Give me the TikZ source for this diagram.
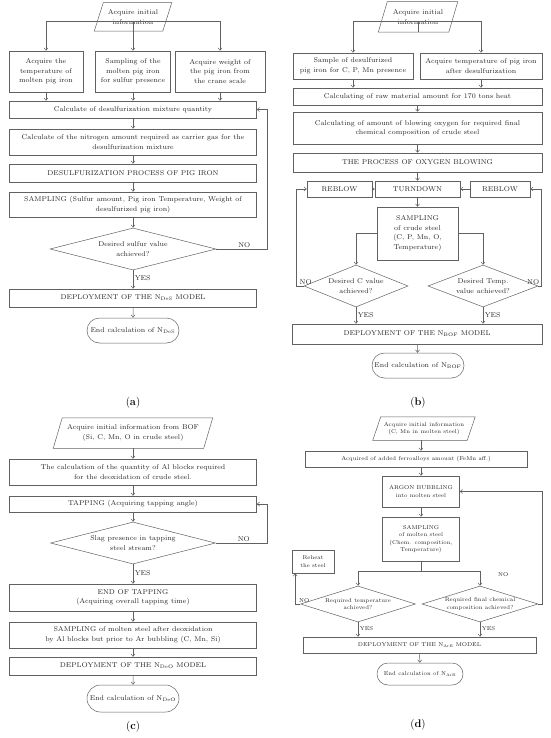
\documentclass[tikz,border=0pt]{standalone}
\usepackage{amsmath}
\usetikzlibrary{calc,arrows.meta,positioning,shapes.geometric,shapes.misc}
\newcommand{\flowfont}{\fontsize{7}{9.5}\selectfont}
\newcommand{\tinyflow}{\fontsize{5.6}{7.5}\selectfont}
\newcommand{\capfont}{\fontsize{11}{13}\selectfont}
% slanted outline round a data node
\newcommand{\slantbox}[2]{%
    \draw[linegray] ($(#1.north west)+(#2,0)$) -- ($(#1.north east)+(#2,0)$)
        -- ($(#1.south east)+(-#2,0)$) -- ($(#1.south west)+(-#2,0)$) -- cycle;}
\colorlet{linegray}{black!62}
\tikzset{
    box/.style = {
        draw = linegray,
        rectangle,
        inner sep = 1pt,
        align = center,
        font = \flowfont,
        text = black!85,
        },
    data/.style = {
        rectangle,
        inner sep = 1pt,
        align = center,
        font = \flowfont,
        text = black!85,
        },
    decision/.style = {
        draw = linegray,
        diamond,
        inner sep = 0pt,
        },
    ask/.style = {
        align = center,
        font = \flowfont,
        text = black!85,
        },
    terminal/.style = {
        draw = linegray,
        rounded rectangle,
        inner sep = 1pt,
        font = \flowfont,
        text = black!85,
        },
    flow/.style = {
        draw = linegray,
        -{Straight Barb[length=2.5pt,width=4pt]},
        },
    answer/.style = {
        font = \flowfont,
        text = black!85,
        inner sep = 1.5pt,
        },
    caption/.style = {
        font = \capfont,
        },
}

\begin{document}
\begin{tikzpicture}[x=1pt, y=-1pt, line width=0.5pt]
    \useasboundingbox (0,0) rectangle (550,738);

    % (a)
    \node[data, minimum width=68, minimum height=28] (a0) at (133,17) {Acquire initial\\information};
    \slantbox{a0}{4.5}
    \node[box, minimum width=74, minimum height=41] (a1) at (46,71.5) {Acquire the\\temperature of\\molten pig iron};
    \node[box, minimum width=75, minimum height=41] (a2) at (133,71.5) {Sampling of the\\molten pig iron\\for sulfur presence};
    \node[box, minimum width=90, minimum height=41] (a3) at (220,71.5) {Acquire weight of\\the pig iron from\\the crane scale};
    \node[box, minimum width=247, minimum height=17] (a4) at (133,109.5) {Calculate of desulfurization mixture quantity};
    \node[box, minimum width=247, minimum height=26] (a5) at (133,142) {Calculate of the nitrogen amount required as carrier gas for the\\desulfurization mixture};
    \node[box, minimum width=247, minimum height=18] (a6) at (133,173) {DESULFURIZATION PROCESS OF PIG IRON};
    \node[box, minimum width=247, minimum height=25] (a7) at (133,204.5) {SAMPLING (Sulfur amount, Pig iron Temperature, Weight of\\desulfurized pig iron)};
    \node[decision, minimum width=166, minimum height=42,
        label={[ask]center:Desired sulfur value\\achieved?}] (a8) at (133,249) {};
    \node[box, minimum width=247, minimum height=18] (a9) at (133,298) {DEPLOYMENT OF THE N\textsubscript{DeS} MODEL};
    \node[terminal, minimum width=94, minimum height=25] (a10) at (133,330.5) {End calculation of N\textsubscript{DeS}};
    \node[caption] (capa) at (133,403) {(\textbf{a})};

    \draw[linegray] (a0.south) -- ++(0,-10) coordinate (a0b);
    \draw[flow] (a0b) -| (a1.north);
    \draw[flow] (a0b) -- (a2.north);
    \draw[flow] (a0b) -| (a3.north);
    \draw[flow] (a1) -- (a1 |- a4.north);
    \draw[flow] (a2) -- (a4);
    \draw[flow] (a3) -- (a3 |- a4.north);
    \draw[flow] (a4) -- (a5);
    \draw[flow] (a5) -- (a6);
    \draw[flow] (a6) -- (a7);
    \draw[flow] (a7) -- (a8);
    \draw[flow] (a8.east) -- node[answer, above, pos=0.55] {NO} ++(51,0) |- (a4.east);
    \draw[flow] (a8) -- node[answer, right, pos=0.45] {YES} (a9);
    \draw[flow] (a9) -- (a10);

    % (b)
    \node[data, minimum width=70, minimum height=30] (b0) at (418,17) {Acquire initial\\information};
    \slantbox{b0}{4.5}
    \node[box, minimum width=120, minimum height=26] (b1) at (353,66) {Sample of desulfurized\\pig iron for C, P, Mn presence};
    \node[box, minimum width=122, minimum height=26] (b2) at (481,66) {Acquire temperature of pig iron\\after desulfurization};
    \node[box, minimum width=249, minimum height=17] (b3) at (417.5,96.5) {Calculating of raw material amount for 170 tons heat};
    \node[box, minimum width=249, minimum height=32] (b4) at (417.5,128) {Calculating of amount of blowing oxygen for required final\\chemical composition of crude steel};
    \node[box, minimum width=249, minimum height=19] (b5) at (417.5,162.5) {THE PROCESS OF OXYGEN BLOWING};
    \node[box, minimum width=65, minimum height=16] (b6) at (339.5,189) {REBLOW};
    \node[box, minimum width=85, minimum height=16] (b7) at (417.5,189) {TURNDOWN};
    \node[box, minimum width=60, minimum height=16] (b8) at (500,189) {REBLOW};
    \node[box, minimum width=81, minimum height=53] (b9) at (417.5,233.5) {SAMPLING\\of crude steel\\(C, P, Mn, O,\\Temperature)};
    \node[decision, minimum width=104, minimum height=42,
        label={[ask]center:Desired C value\\achieved?}] (b10) at (356,286) {};
    \node[decision, minimum width=110, minimum height=42,
        label={[ask]center:Desired Temp.\\value achieved?}] (b11) at (483,286) {};
    \node[box, minimum width=250, minimum height=20] (b12) at (417,334) {DEPLOYMENT OF THE N\textsubscript{BOF} MODEL};
    \node[terminal, minimum width=94, minimum height=25] (b13) at (418,365.5) {End calculation of N\textsubscript{BOF}};
    \node[caption] (capb) at (418,403) {(\textbf{b})};

    \draw[linegray] (b0.south) -- ++(0,-11) coordinate (b0b);
    \draw[flow] (b0b) -| (b1.north);
    \draw[flow] (b0b) -| (b2.north);
    \draw[flow] (b1) -- (b1 |- b3.north);
    \draw[flow] (b2) -- (b2 |- b3.north);
    \draw[flow] (b3) -- (b4);
    \draw[flow] (b4) -- (b5);
    \draw[flow] (b5) -- (b7);
    \draw[flow] (b6) -- (b7);
    \draw[flow] (b8) -- (b7);
    \draw[flow] (b7) -- (b9);
    \draw[flow] (b9.west) -| (b10.north);
    \draw[flow] (b9.east) -| (b11.north);
    \draw[flow] (b10.west) -- ++(-8,0) |- (b6.west);
    \draw[flow] (b11.east) -- ++(3,0) |- (b8.east);
    \node[answer, above] at ([xshift=2pt]b10.west) {NO};
    \node[answer, above] at ([xshift=-5pt]b11.east) {NO};
    \draw[flow] (b10.south) -- node[answer, right, pos=0.45] {YES} (b10.south |- b12.north);
    \draw[flow] (b11.south) -- node[answer, right, pos=0.45] {YES} (b11.south |- b12.north);
    \draw[flow] (b12) -- (b13);

    % (c)
    \node[data, minimum width=150, minimum height=30] (c0) at (133,433) {Acquire initial information from BOF\\(Si, C, Mn, O in crude steel)};
    \slantbox{c0}{4.5}
    \node[box, minimum width=247, minimum height=26] (c1) at (133,472) {The calculation of the quantity of Al blocks required\\for the deoxidation of crude steel.};
    \node[box, minimum width=247, minimum height=16] (c2) at (133,504) {TAPPING (Acquiring tapping angle)};
    \node[decision, minimum width=165, minimum height=42,
        label={[ask]center:Slag presence in tapping\\steel stream?}] (c3) at (133,543) {};
    \node[box, minimum width=247, minimum height=27] (c4) at (133,597.5) {END OF TAPPING\\(Acquiring overall tapping time)};
    \node[box, minimum width=247, minimum height=26] (c5) at (133,635) {SAMPLING of molten steel after deoxidation\\by Al blocks but prior to Ar bubbling (C, Mn, Si)};
    \node[box, minimum width=247, minimum height=18] (c6) at (133,666) {DEPLOYMENT OF THE N\textsubscript{DeO} MODEL};
    \node[terminal, minimum width=94, minimum height=27] (c7) at (133,698.5) {End calculation of N\textsubscript{DeO}};
    \node[caption] (capc) at (133,727) {(\textbf{c})};

    \draw[flow] (c0) -- (c1);
    \draw[flow] (c1) -- (c2);
    \draw[flow] (c2) -- (c3);
    \draw[flow] (c3.east) -- node[answer, above, pos=0.55] {NO} ++(51,0) |- (c2.east);
    \draw[flow] (c3) -- node[answer, right, pos=0.45] {YES} (c4);
    \draw[flow] (c4) -- (c5);
    \draw[flow] (c5) -- (c6);
    \draw[flow] (c6) -- (c7);

    % (d)
    \node[data, minimum width=94, minimum height=23, font=\tinyflow] (d0) at (424,428.5) {Acquire initial information\\(C, Mn in molten steel)};
    \slantbox{d0}{4}
    \node[box, minimum width=222, minimum height=16, font=\tinyflow] (d1) at (416,459) {Acquired of added ferroalloys amount (FeMn aff.)};
    \node[box, minimum width=77, minimum height=31, font=\tinyflow] (d2) at (421,491.5) {ARGON BUBBLING\\into molten steel};
    \node[box, minimum width=77, minimum height=44, font=\tinyflow] (d3) at (421,539) {SAMPLING\\of molten steel\\(Chem. composition,\\Temperature)};
    \node[box, minimum width=42, minimum height=23, font=\tinyflow] (d4) at (313,561.5) {Reheat\\the steel};
    \node[decision, minimum width=115, minimum height=36,
        label={[ask, font=\tinyflow]center:Required temperature\\achieved?}] (d5) at (358,604) {};
    \node[decision, minimum width=116, minimum height=36,
        label={[ask, font=\tinyflow]center:Required final chemical\\composition achieved?}] (d6) at (480,604) {};
    \node[box, minimum width=233, minimum height=16, font=\tinyflow] (d7) at (419.5,645) {DEPLOYMENT OF THE N\textsubscript{ArB} MODEL};
    \node[terminal, minimum width=88, minimum height=22, font=\tinyflow] (d8) at (420,674) {End calculation of N\textsubscript{ArB}};
    \node[caption] (capd) at (418,725) {(\textbf{d})};

    \draw[flow] (d2 |- d0.south) -- (d2 |- d1.north);
    \draw[flow] (d2 |- d1.south) -- (d2);
    \draw[flow] (d2) -- (d3);
    \draw[linegray] (d3.south) -- ++(0,10) coordinate (d3b);
    \draw[flow] (d3b) -| (d5.north);
    \draw[flow] (d3b) -| (d6.north);
    \draw[flow] (d5.west) -- ++(-5,0) coordinate (d5w) -- (d5w |- d4.south);
    \draw[flow] (d6.east) -- ++(4,0) |- (d2.east);
    \node[answer, above, font=\tinyflow] at ([xshift=4pt]d5.west) {NO};
    \node[answer, font=\tinyflow] at ([shift={(-35,-29)}]d6.east) {NO};
    \draw[flow] (d5.south) -- node[answer, right, font=\tinyflow, pos=0.45] {YES} (d5.south |- d7.north);
    \draw[flow] (d6.south) -- node[answer, right, font=\tinyflow, pos=0.45] {YES} (d6.south |- d7.north);
    \draw[flow] (d7) -- (d8);
\end{tikzpicture}
\end{document}
